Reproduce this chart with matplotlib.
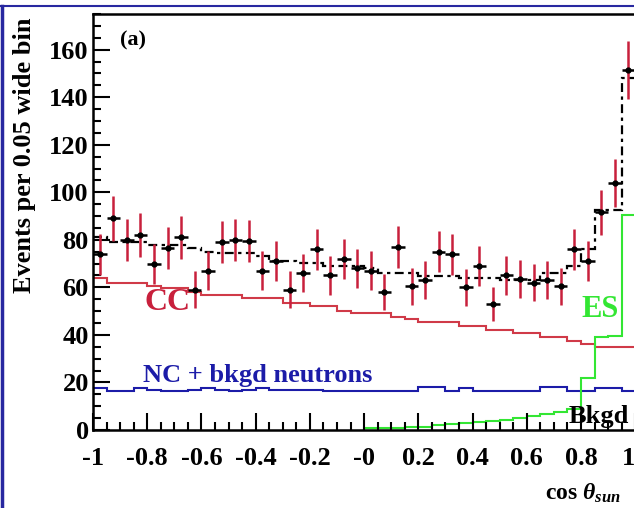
import numpy as np
import matplotlib
matplotlib.use("Agg")
import matplotlib.pyplot as plt
from matplotlib.ticker import MultipleLocator, FixedLocator, FixedFormatter
from matplotlib.lines import Line2D

plt.rcParams['font.family'] = ['Liberation Serif', 'DejaVu Serif']
plt.rcParams['font.weight'] = 'bold'
plt.rcParams['mathtext.fontset'] = 'custom'
plt.rcParams['mathtext.rm'] = 'Liberation Serif:bold'
plt.rcParams['mathtext.it'] = 'Liberation Serif:italic:bold'

# 40 bins of 0.05 in cos(theta_sun)
edges = np.linspace(-1, 1, 41)
centers = 0.5 * (edges[:-1] + edges[1:])
bin_half = 0.025

data = [74, 89, 80, 82, 70, 76.5, 81, 59, 67, 79,
        80, 79.5, 67, 71, 59, 66, 76, 65, 72, 68,
        67, 58, 77, 60.5, 63, 75, 74, 60, 69, 53,
        65, 63.5, 62, 63, 60.5, 76, 71, 91.5, 104, 151.5]
data_err = [8.6, 9.4, 8.9, 9.1, 8.4, 8.7, 9.0, 7.7, 8.2, 8.9,
            8.9, 8.9, 8.2, 8.4, 7.7, 8.1, 8.7, 8.1, 8.5, 8.2,
            8.2, 7.6, 8.8, 7.8, 7.9, 8.7, 8.6, 7.7, 8.3, 7.3,
            8.1, 8.0, 7.9, 7.9, 7.8, 8.7, 8.4, 9.6, 10.2, 12.3]

fit_total = [81, 79, 79, 79, 78, 78, 78, 76.5, 75, 74.4,
             74.4, 74.4, 73, 71.3, 71.3, 70.2, 70.2, 68.8, 68.8, 68.8,
             68, 66, 66, 66, 64.6, 64.6, 64.6, 63.9, 63.9, 63.9,
             63.2, 63.2, 63.2, 66, 66, 69, 76, 92.5, 92.5, 148]

cc = [64, 62, 62, 62, 60.6, 59.7, 59.7, 58.2, 57, 57,
      57, 55.4, 55.4, 55.4, 53.3, 53.3, 52.2, 52.2, 50.2, 49.4,
      49.4, 49.4, 47.4, 46.6, 45.3, 45.3, 45.3, 43.8, 43.8, 42.1,
      42.1, 40.7, 40.7, 39, 39, 37.6, 36.1, 35, 35, 35]

nc = [17.5, 16.2, 16.2, 17.5, 17.0, 16.2, 16.2, 17.0, 17.5, 17.0,
      16.5, 17.0, 17.5, 17.0, 17.0, 16.8, 16.8, 16.2, 16.2, 16.2,
      16.2, 16.2, 16.2, 16.2, 18.0, 18.0, 16.2, 17.8, 16.2, 16.2,
      16.2, 16.2, 16.2, 18.0, 18.0, 16.2, 16.2, 17.8, 17.8, 16.2]

# ES only from cos = 0 upwards
es_edges = edges[20:]
es = [0.7, 0.7, 0.8, 1.2, 1.4, 2.0, 2.4, 2.8, 3.3, 3.8,
      4.4, 5.0, 5.8, 6.8, 7.5, 8.8, 22, 39, 39.5, 90.5]

x_ticks = [-1, -0.8, -0.6, -0.4, -0.2, 0, 0.2, 0.4, 0.6, 0.8, 1]
x_tick_labels = ['-1', '-0.8', '-0.6', '-0.4', '-0.2', '-0', '0.2', '0.4', '0.6', '0.8', '1']

red = '#c8203c'
cc_red = '#d03a48'
blue = '#1c1ca8'
green = '#33e633'

fig = plt.figure(figsize=(6.34, 5.08), dpi=100)
ax = fig.add_axes([93/634, 1 - 430/508, 1 - 93/634 + 0.002, (430 - 14)/508])

ax.stairs(cc, edges, baseline=0, color=cc_red, lw=1.5)
ax.stairs(nc, edges, baseline=0, color=blue, lw=1.5)
ax.stairs(es, es_edges, baseline=0, color=green, lw=1.5)
ax.stairs(fit_total, edges, baseline=None, color='black', lw=1.6,
          linestyle=(0, (4, 2, 1.5, 2)))

ax.errorbar(centers, data, yerr=data_err, fmt='none', ecolor=red, elinewidth=1.8, capsize=0)
ax.errorbar(centers, data, xerr=bin_half, fmt='o', color='black', ms=3.5,
            elinewidth=1.8, capsize=0)

ax.set_xlim(-1, 1.0)
ax.set_ylim(0, 175)

ax.xaxis.set_major_locator(FixedLocator(x_ticks))
ax.xaxis.set_major_formatter(FixedFormatter(x_tick_labels))
ax.xaxis.set_minor_locator(MultipleLocator(0.05))
ax.yaxis.set_major_locator(MultipleLocator(20))
ax.yaxis.set_minor_locator(MultipleLocator(5))
ax.tick_params(which='both', direction='in', width=1.5, labelsize=19)
ax.tick_params(which='major', length=12)
ax.tick_params(which='minor', length=6)
ax.tick_params(axis='x', pad=12)
ax.tick_params(axis='y', pad=3)
for lab in ax.get_xticklabels() + ax.get_yticklabels():
    lab.set_fontweight('bold')
# the last x label sits on the picture edge
ax.get_xticklabels()[-1].set_horizontalalignment('right')
for s in ['left', 'bottom', 'top']:
    ax.spines[s].set_linewidth(1.8)
ax.spines['right'].set_visible(False)

ax.set_ylabel('Events per 0.05 wide bin', fontsize=19, fontweight='bold')
ax.yaxis.set_label_coords(-0.105, 0.66)

ax.text(-0.9, 164, '(a)', fontsize=16, fontweight='bold', va='center', ha='left')
ax.text(-0.81, 53.5, 'CC', color=red, fontsize=23, fontweight='bold', va='center', ha='left')
ax.text(-0.815, 23, 'NC + bkgd neutrons', color=blue, fontsize=19, fontweight='bold',
        va='center', ha='left')
ax.text(0.80, 50.5, 'ES', color=green, fontsize=22, fontweight='bold', va='center', ha='left')
ax.text(0.755, 5.5, 'Bkgd', color='black', fontsize=19, fontweight='bold', va='center', ha='left')

fig.text(545/634, 1 - 493/508, r'cos $\theta_{sun}$', fontsize=17, fontweight='bold',
         ha='left', va='center')

# blue frame of the screenshot
fig.add_artist(Line2D([0.003, 0.003], [0, 1 - 6/508], color='#2828a0', lw=2.5))
fig.add_artist(Line2D([0, 1], [1 - 6/508, 1 - 6/508], color='#2828a0', lw=1.5))

fig.savefig('out.png', dpi=100)
